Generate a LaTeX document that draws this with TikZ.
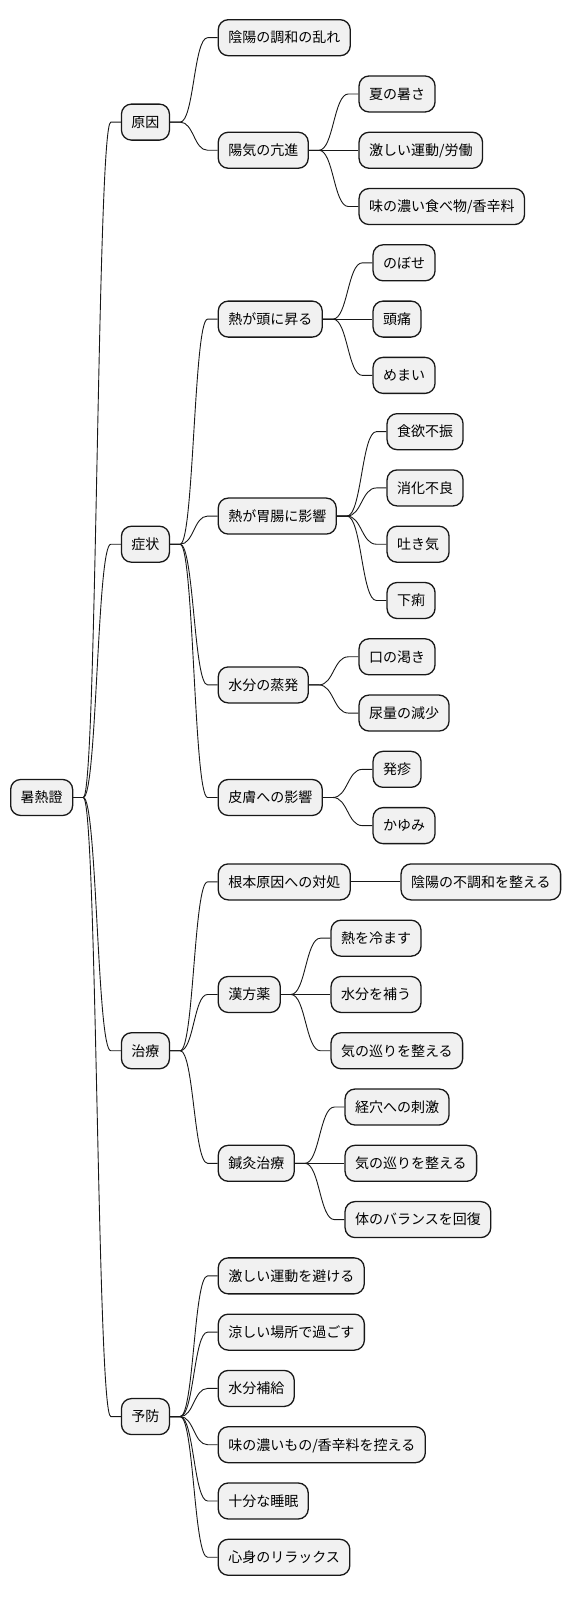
\documentclass[tikz,border=0pt]{standalone}
\usepackage{fontspec}
\setmainfont{Noto Sans CJK JP}
\usetikzlibrary{calc}
\definecolor{boxfill}{HTML}{F1F1F1}
\definecolor{boxline}{HTML}{181818}
\tikzset{
  mmbox/.style={draw=boxline, fill=boxfill, line width=1.3pt, rounded corners=10pt,
    minimum height=36pt, inner xsep=10pt, inner ysep=0pt, text height=12.3pt, text depth=1.7pt,
    font=\fontsize{14pt}{16pt}\selectfont, anchor=west},
  mmedge/.style={draw=boxline, line width=0.9pt}
}
\newcommand\mmconn[2]{%
  \draw[mmedge] let \p1=(#1.east), \p2=(#2.west) in
    (\p1) -- ({\x1+10pt},\y1) .. controls ({0.5*\x1+0.5*\x2},\y1) and ({0.5*\x1+0.5*\x2},\y2) .. ({\x2-10pt},\y2) -- (\p2);}
\newcommand\mmkid[5]{% name, parent, row, text, gap
  \path (#2.east) ++(#5,0) coordinate (t#1);
  \coordinate (y#1) at (0,{-37.7-56.28*#3});
  \node[mmbox] (#1) at (t#1 |- y#1) {#4};
  \mmconn{#2}{#1}}
\newcommand\kidA[4]{\mmkid{#1}{#2}{#3}{#4}{47.5}}
\newcommand\kidB[4]{\mmkid{#1}{#2}{#3}{#4}{47.5}}
\newcommand\kidC[4]{\mmkid{#1}{#2}{#3}{#4}{49.5}}
\begin{document}
\begin{tikzpicture}[x=1pt,y=1pt]
\useasboundingbox (0,0) rectangle (572,-1597);
\node[mmbox] (R) at (10,{-37.7-56.28*13.5}) {暑熱證};
\kidA{A}{R}{1.5}{原因}
\kidA{B}{R}{9}{症状}
\kidA{C}{R}{18}{治療}
\kidA{D}{R}{24.5}{予防}
% causes
\kidB{A1}{A}{0}{陰陽の調和の乱れ}
\kidB{A2}{A}{2}{陽気の亢進}
\kidC{A21}{A2}{1}{夏の暑さ}
\kidC{A22}{A2}{2}{激しい運動/労働}
\kidC{A23}{A2}{3}{味の濃い食べ物/香辛料}
% symptoms
\kidB{B1}{B}{5}{熱が頭に昇る}
\kidB{B2}{B}{8.5}{熱が胃腸に影響}
\kidB{B3}{B}{11.5}{水分の蒸発}
\kidB{B4}{B}{13.5}{皮膚への影響}
\kidC{B11}{B1}{4}{のぼせ}
\kidC{B12}{B1}{5}{頭痛}
\kidC{B13}{B1}{6}{めまい}
\kidC{B21}{B2}{7}{食欲不振}
\kidC{B22}{B2}{8}{消化不良}
\kidC{B23}{B2}{9}{吐き気}
\kidC{B24}{B2}{10}{下痢}
\kidC{B31}{B3}{11}{口の渇き}
\kidC{B32}{B3}{12}{尿量の減少}
\kidC{B41}{B4}{13}{発疹}
\kidC{B42}{B4}{14}{かゆみ}
% treatment
\kidB{C1}{C}{15}{根本原因への対処}
\kidB{C2}{C}{17}{漢方薬}
\kidB{C3}{C}{20}{鍼灸治療}
\kidC{C11}{C1}{15}{陰陽の不調和を整える}
\kidC{C21}{C2}{16}{熱を冷ます}
\kidC{C22}{C2}{17}{水分を補う}
\kidC{C23}{C2}{18}{気の巡りを整える}
\kidC{C31}{C3}{19}{経穴への刺激}
\kidC{C32}{C3}{20}{気の巡りを整える}
\kidC{C33}{C3}{21}{体のバランスを回復}
% prevention
\kidB{D1}{D}{22}{激しい運動を避ける}
\kidB{D2}{D}{23}{涼しい場所で過ごす}
\kidB{D3}{D}{24}{水分補給}
\kidB{D4}{D}{25}{味の濃いもの/香辛料を控える}
\kidB{D5}{D}{26}{十分な睡眠}
\kidB{D6}{D}{27}{心身のリラックス}
\end{tikzpicture}
\end{document}
